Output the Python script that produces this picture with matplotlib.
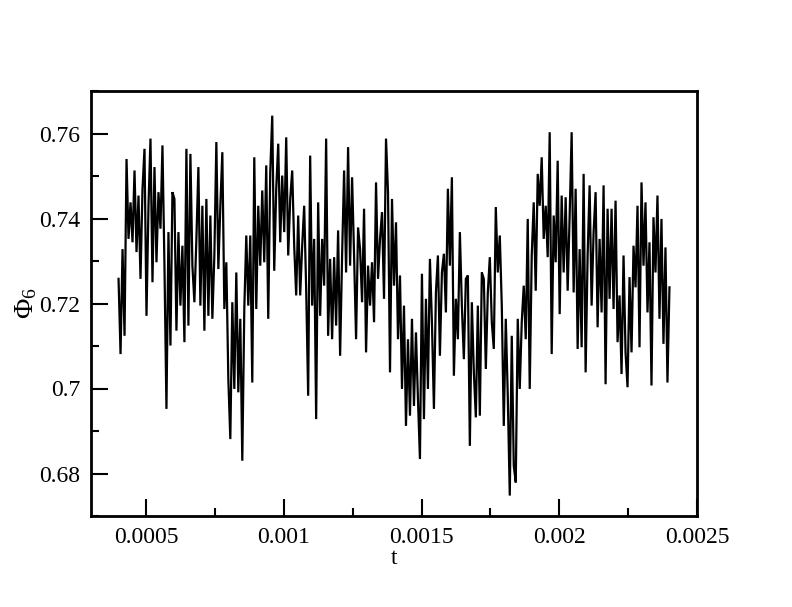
import numpy as np
import matplotlib

matplotlib.use("Agg")
import matplotlib.pyplot as plt
from matplotlib.ticker import FuncFormatter, MultipleLocator

# Phi_6 order parameter at ~2 px steps
phi6 = [
    # 0.00040 - 0.00060
    0.7258, 0.7081, 0.7328, 0.7124, 0.7540, 0.7352, 0.7438, 0.7344, 0.7513, 0.7321,
    0.7454, 0.7258, 0.7470, 0.7564, 0.7171, 0.7430, 0.7588, 0.7250, 0.7521, 0.7297,
    0.7462, 0.7376, 0.7572, 0.7289, 0.6952, 0.7368, 0.7101, 0.7462,
    # 0.00060 - 0.00083
    0.7446, 0.7136, 0.7368, 0.7195, 0.7336, 0.7109, 0.7564, 0.7148, 0.7552, 0.7289,
    0.7203, 0.7352, 0.7521, 0.7195, 0.7430, 0.7136, 0.7446, 0.7171, 0.7407, 0.7164,
    0.7313, 0.7580, 0.7281, 0.7430, 0.7556, 0.7187, 0.7297, 0.7022, 0.6881, 0.7203,
    0.6999,
    # 0.00083 - 0.00105
    0.7273, 0.6991, 0.7164, 0.6830, 0.7187, 0.7360, 0.7195, 0.7360, 0.7014, 0.7544,
    0.7187, 0.7430, 0.7289, 0.7466, 0.7297, 0.7525, 0.7164, 0.7509, 0.7642, 0.7277,
    0.7470, 0.7576, 0.7344, 0.7501, 0.7368, 0.7591, 0.7313, 0.7446, 0.7513, 0.7336,
    0.7219,
    # 0.00105 - 0.00128
    0.7407, 0.7219, 0.7336, 0.7430, 0.7234, 0.6983, 0.7548, 0.7195, 0.7352, 0.6928,
    0.7438, 0.7171, 0.7352, 0.7242, 0.7588, 0.7124, 0.7305, 0.7116, 0.7309, 0.7148,
    0.7372, 0.7077, 0.7313, 0.7513, 0.7273, 0.7568, 0.7289, 0.7497, 0.7313, 0.7116,
    0.7379,
    # 0.00128 - 0.00150
    0.7328, 0.7203, 0.7423, 0.7085, 0.7289, 0.7195, 0.7297, 0.7156, 0.7485, 0.7258,
    0.7352, 0.7415, 0.7211, 0.7588, 0.7462, 0.7038, 0.7446, 0.7242, 0.7391, 0.7116,
    0.7266, 0.6999, 0.7195, 0.6912, 0.7116, 0.6936, 0.7164, 0.6959, 0.7132, 0.6975,
    0.6834,
    # 0.00150 - 0.00173
    0.7270, 0.6928, 0.7211, 0.6999, 0.7305, 0.7156, 0.6952, 0.7226, 0.7313, 0.7077,
    0.7273, 0.7317, 0.7179, 0.7470, 0.7289, 0.7497, 0.7030, 0.7211, 0.7116, 0.7368,
    0.7195, 0.7069, 0.7258, 0.7266, 0.6865, 0.7203, 0.7038, 0.6932, 0.7195, 0.6936,
    0.7273,
    # 0.00173 - 0.00195
    0.7258, 0.7046, 0.7226, 0.7309, 0.7156, 0.7093, 0.7427, 0.7273, 0.7360, 0.7195,
    0.6912, 0.7164, 0.6983, 0.6748, 0.7124, 0.6818, 0.6779, 0.7164, 0.6999, 0.7156,
    0.7242, 0.7116, 0.7399, 0.6999, 0.7313, 0.7438, 0.7230, 0.7505, 0.7430, 0.7544,
    0.7352,
    # 0.00195 - 0.00218
    0.7430, 0.7309, 0.7603, 0.7081, 0.7407, 0.7297, 0.7536, 0.7175, 0.7454, 0.7273,
    0.7450, 0.7230, 0.7407, 0.7603, 0.7226, 0.7470, 0.7093, 0.7328, 0.7097, 0.7505,
    0.7038, 0.7313, 0.7478, 0.7195, 0.7368, 0.7462, 0.7144, 0.7352, 0.7179, 0.7478,
    0.7010,
    # 0.00218 - 0.00240
    0.7423, 0.7211, 0.7423, 0.7187, 0.7442, 0.7109, 0.7219, 0.7034, 0.7313, 0.7085,
    0.7003, 0.7262, 0.7085, 0.7336, 0.7238, 0.7430, 0.7097, 0.7485, 0.7289, 0.7438,
    0.7179, 0.7344, 0.7007, 0.7403, 0.7273, 0.7454, 0.7164, 0.7399, 0.7105, 0.7332,
    0.7014, 0.7238,
]
t_start, t_end = 0.0004, 0.0024

plt.rcParams.update({
    "font.family": "Liberation Serif",
    "mathtext.fontset": "custom",
    "mathtext.rm": "Liberation Serif",
    "mathtext.it": "Liberation Serif:italic",
    "font.size": 17,
})

t = np.linspace(t_start, t_end, len(phi6))

fig = plt.figure(figsize=(7.92, 6.07), dpi=100)
ax = fig.add_axes([91 / 792, 91 / 607, 606 / 792, 425 / 607])
ax.plot(t, phi6, color="black", lw=1.6, solid_joinstyle="miter")

ax.set_xlim(0.0003, 0.0025)
ax.set_ylim(0.67, 0.77)
ax.xaxis.set_major_locator(MultipleLocator(0.0005))
ax.xaxis.set_minor_locator(MultipleLocator(0.00025))
ax.yaxis.set_major_locator(MultipleLocator(0.02))
ax.yaxis.set_minor_locator(MultipleLocator(0.01))
fmt = FuncFormatter(lambda v, _: f"{v:g}")
ax.xaxis.set_major_formatter(fmt)
ax.yaxis.set_major_formatter(fmt)
ax.tick_params(which="major", direction="in", length=12, width=1.5, pad=8)
ax.tick_params(which="minor", direction="in", length=6, width=1.5)
for s in ax.spines.values():
    s.set_linewidth(2)

ax.set_xlabel("t", labelpad=0)
ax.set_ylabel(r"$\Phi_6$", fontsize=20, labelpad=0)

fig.savefig("out.png", dpi=100)
